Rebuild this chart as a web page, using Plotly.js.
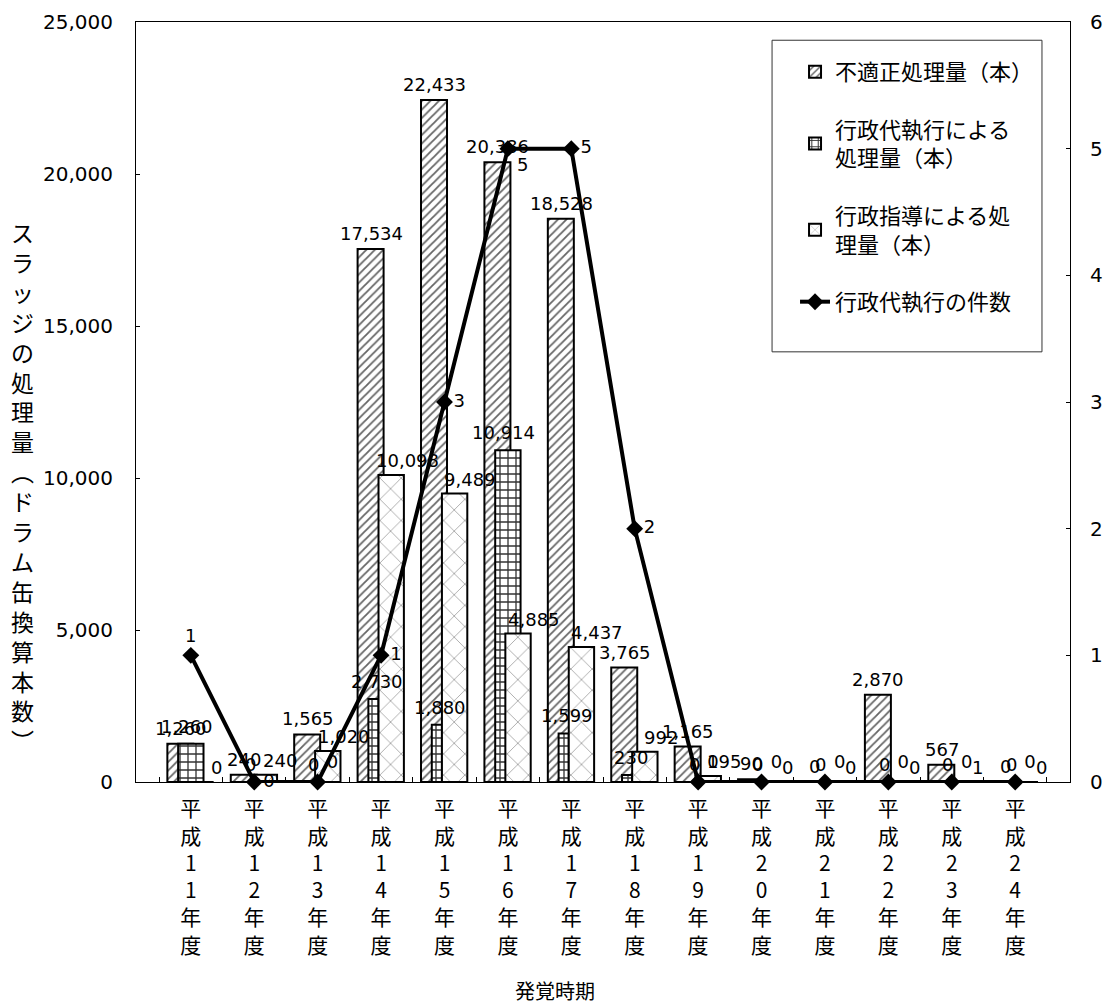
<!DOCTYPE html>
<html>
<head>
<meta charset="utf-8">
<script src="https://cdn.plot.ly/plotly-3.0.1.min.js"></script>
<style>html,body{margin:0;padding:0;background:#fff;}#chart{width:1108px;height:1008px;}</style>
</head>
<body>
<div id="chart"></div>
<script>
// ---- data ----
const categories = ['平成11年度','平成12年度','平成13年度','平成14年度','平成15年度','平成16年度','平成17年度','平成18年度','平成19年度','平成20年度','平成21年度','平成22年度','平成23年度','平成24年度'];
const improperAmount = [1260, 240, 1565, 17534, 22433, 20386, 18528, 3765, 1165, 90, 0, 2870, 567, 0];
const executionAmount = [1260, 0, 0, 2730, 1880, 10914, 1599, 230, 0, 0, 0, 0, 0, 0];
const guidanceAmount = [0, 240, 1020, 10098, 9489, 4885, 4437, 992, 195, 0, 0, 0, 1, 0];
const executionCount = [1, 0, 0, 1, 3, 5, 5, 2, 0, 0, 0, 0, 0, 0];
const seriesNames = ['不適正処理量（本）', '行政代執行による<br>処理量（本）', '行政指導による処<br>理量（本）', '行政代執行の件数'];
const yTitle = 'スラッジの処理量︵ドラム缶換算本数︶';
const xTitle = '発覚時期';

// ---- styles (not data) ----
const FONT = 'Noto Sans CJK JP';
const NUMFONT = 'DejaVu Sans';
const gridWidths = [0.40, 0.16, 0.16, 0.16, 0.16, 0.40, 0.16, 0.16, 0.16, 0.16, 0.16, 0.16, 0.16, 0.16];
const countTextPos = ['top center','middle right','top right','middle right','middle right','bottom right','middle right','middle right','top right','top right','top right','top right','top right','top right'];
// label placement relative to the category centre (pixels)
const labelStyle = [
  {dx: -10, dy: 3},   // 不適正処理量
  {dx: -4, dy: 5},    // 行政代執行による処理量
  {dx: 26, dy: 2}     // 行政指導による処理量
];

const xcats = categories.map(c => Array.from(c).join('<br>'));
const fmt = v => v.toLocaleString('en-US');
const barLine = {color: '#000', width: 2};

const traces = [
  {
    type: 'bar', name: seriesNames[0], x: xcats, y: improperAmount,
    offset: -0.37, width: 0.41,
    marker: {color: '#fff', line: barLine, pattern: {shape: '/', fgcolor: '#666', bgcolor: '#fff', size: 6, solidity: 0.3}},
    legendgroup: 'a', hoverinfo: 'skip'
  },
  {
    type: 'bar', name: seriesNames[1], x: xcats, y: executionAmount,
    offset: -0.20, width: gridWidths,
    marker: {color: '#fff', line: barLine, pattern: {shape: '+', fgcolor: '#333', bgcolor: '#fff', size: 8, solidity: 0.3}},
    legendgroup: 'b', hoverinfo: 'skip'
  },
  {
    type: 'bar', name: seriesNames[2], x: xcats, y: guidanceAmount,
    offset: -0.04, width: 0.40,
    marker: {color: '#fff', line: barLine, pattern: {shape: 'x', fgcolor: '#aaa', bgcolor: '#fff', size: 15, solidity: 0.12}},
    legendgroup: 'c', hoverinfo: 'skip'
  },
  {
    type: 'scatter', mode: 'lines+markers+text', name: seriesNames[3], x: xcats, y: executionCount, yaxis: 'y2',
    line: {color: '#000', width: 4}, marker: {symbol: 'diamond', size: 13, color: '#000'},
    text: executionCount.map(String), textposition: countTextPos, cliponaxis: false,
    textfont: {family: NUMFONT, size: 18, color: '#000'}, legendgroup: 'd'
  }
];

const barSeries = [improperAmount, executionAmount, guidanceAmount];
const labelAnns = [];
barSeries.forEach((vals, s) => {
  vals.forEach((v, i) => {
    labelAnns.push({
      xref: 'x', yref: 'y', x: xcats[i], y: v, xanchor: 'center', yanchor: 'bottom',
      xshift: labelStyle[s].dx, yshift: labelStyle[s].dy, showarrow: false,
      text: fmt(v), font: {family: NUMFONT, size: 18, color: '#000'}
    });
  });
});

const layout = {
  width: 1108, height: 1008,
  margin: {l: 136, r: 38, t: 22, b: 226},
  paper_bgcolor: '#fff', plot_bgcolor: '#fff',
  font: {family: FONT, size: 18, color: '#000'},
  barmode: 'overlay',
  showlegend: true,
  legend: {
    x: 0.7056, y: 0.962, xanchor: 'left', yanchor: 'top',
    bgcolor: 'rgba(0,0,0,0)', borderwidth: 0,
    font: {family: FONT, size: 22, color: '#000'},
    tracegroupgap: 26, traceorder: 'grouped'
  },
  xaxis: {
    type: 'category', showline: true, linecolor: '#000', linewidth: 1, mirror: true,
    ticks: 'inside', ticklen: 5, tickcolor: '#000', tickson: 'boundaries',
    tickfont: {family: FONT, size: 21, color: '#000'}, ticklabelstandoff: 8,
    showgrid: false, zeroline: false
  },
  yaxis: {
    range: [0, 25000], dtick: 5000, tickformat: ',d',
    showline: true, linecolor: '#000', linewidth: 1,
    ticks: 'inside', ticklen: 4, tickcolor: '#000',
    tickfont: {family: NUMFONT, size: 20, color: '#000'}, ticklabelstandoff: 18,
    showgrid: false, zeroline: false
  },
  yaxis2: {
    range: [0, 6], dtick: 1, overlaying: 'y', side: 'right',
    showline: true, linecolor: '#000', linewidth: 1,
    ticks: 'inside', ticklen: 4, tickcolor: '#000',
    tickfont: {family: NUMFONT, size: 20, color: '#000'}, ticklabelstandoff: 15,
    showgrid: false, zeroline: false
  },
  shapes: [
    {type: 'rect', xref: 'paper', yref: 'paper', x0: 0.681, x1: 0.970, y0: 0.566, y1: 0.976,
     line: {color: '#333', width: 1}, fillcolor: 'rgba(0,0,0,0)'}
  ],
  annotations: [
    {xref: 'paper', yref: 'paper', x: -0.122, y: 0.390, xanchor: 'center', yanchor: 'middle',
     text: Array.from(yTitle).join('<br>'), showarrow: false, align: 'center',
     font: {family: FONT, size: 23, color: '#000'}},
    {xref: 'paper', yref: 'paper', x: 0.4486, y: -0.274, xanchor: 'center', yanchor: 'middle',
     text: xTitle, showarrow: false, font: {family: FONT, size: 20, color: '#000'}}
  ].concat(labelAnns)
};

Plotly.newPlot('chart', traces, layout, {displayModeBar: false, staticPlot: true});
</script>
</body>
</html>
